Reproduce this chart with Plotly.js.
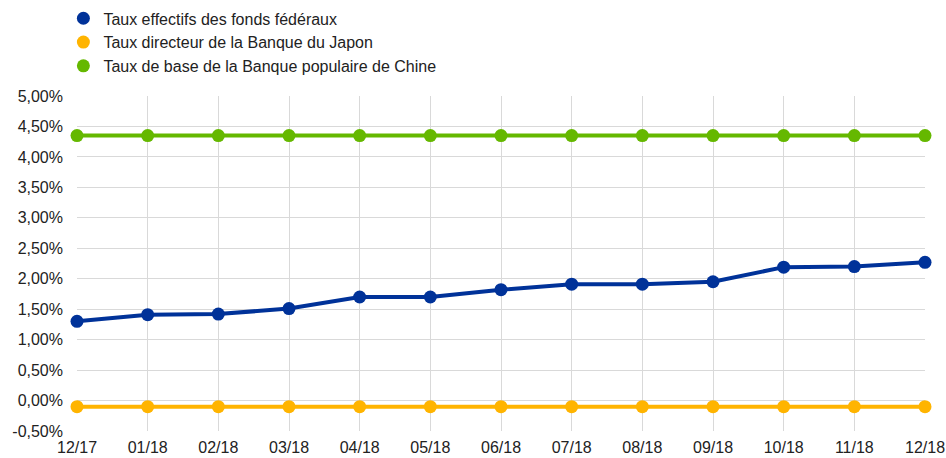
<!DOCTYPE html>
<html>
<head>
<meta charset="utf-8">
<script src="https://cdn.plot.ly/plotly-3.0.1.min.js"></script>
<style>html,body{margin:0;padding:0;background:#fff;}#chart{width:946px;height:458px;}</style>
</head>
<body>
<div id="chart"></div>
<script>
const months = ["12/17","01/18","02/18","03/18","04/18","05/18","06/18","07/18","08/18","09/18","10/18","11/18","12/18"];
const fedFunds = [1.30,1.41,1.42,1.51,1.70,1.70,1.82,1.91,1.91,1.95,2.19,2.20,2.27];
const bojRate = [-0.10,-0.10,-0.10,-0.10,-0.10,-0.10,-0.10,-0.10,-0.10,-0.10,-0.10,-0.10,-0.10];
const pbocRate = [4.35,4.35,4.35,4.35,4.35,4.35,4.35,4.35,4.35,4.35,4.35,4.35,4.35];
const seriesNames = ["Taux effectifs des fonds fédéraux","Taux directeur de la Banque du Japon","Taux de base de la Banque populaire de Chine"];
const colors = ["#003299","#FFB400","#65B800"];
const yTickVals = [-0.5,0,0.5,1,1.5,2,2.5,3,3.5,4,4.5,5];
const yTickText = yTickVals.map(v => v.toFixed(2).replace('.', ',') + '%');

const series = [fedFunds, bojRate, pbocRate];
const traces = [];
series.forEach((vals, i) => {
  traces.push({
    x: months, y: vals, type: 'scatter', mode: 'lines+markers',
    line: {color: colors[i], width: 4},
    marker: {color: colors[i], size: 13},
    showlegend: false, hoverinfo: 'skip', cliponaxis: false
  });
});
series.forEach((vals, i) => {
  traces.push({
    x: [null], y: [null], type: 'scatter', mode: 'markers',
    name: seriesNames[i],
    marker: {color: colors[i], size: 13},
    showlegend: true
  });
});

const layout = {
  width: 946, height: 458,
  margin: {l: 77, r: 21, t: 96, b: 27, pad: 0, autoexpand: false},
  paper_bgcolor: '#fff', plot_bgcolor: '#fff',
  font: {family: 'Liberation Sans, Arial, sans-serif', size: 16, color: '#222'},
  showlegend: true,
  legend: {
    xref: 'container', yref: 'container',
    x: 0.067, y: 0.997, xanchor: 'left', yanchor: 'top',
    font: {size: 16, color: '#222'},
    traceorder: 'normal', bgcolor: 'rgba(0,0,0,0)'
  },
  xaxis: {
    type: 'category', range: [0, 12], automargin: false,
    showgrid: true, gridcolor: '#d9d9d9', gridwidth: 1,
    zeroline: false, showline: false, ticks: '',
    ticklabelstandoff: 5,
    tickfont: {size: 16, color: '#222'}, fixedrange: true
  },
  yaxis: {
    range: [-0.5, 5], tickvals: yTickVals, ticktext: yTickText, automargin: false,
    showgrid: true, gridcolor: '#d9d9d9', gridwidth: 1,
    zeroline: false, showline: false, ticks: '',
    ticklabelstandoff: 13,
    tickfont: {size: 16, color: '#222'}, fixedrange: true
  }
};

Plotly.newPlot('chart', traces, layout, {displayModeBar: false, staticPlot: true});
</script>
</body>
</html>
